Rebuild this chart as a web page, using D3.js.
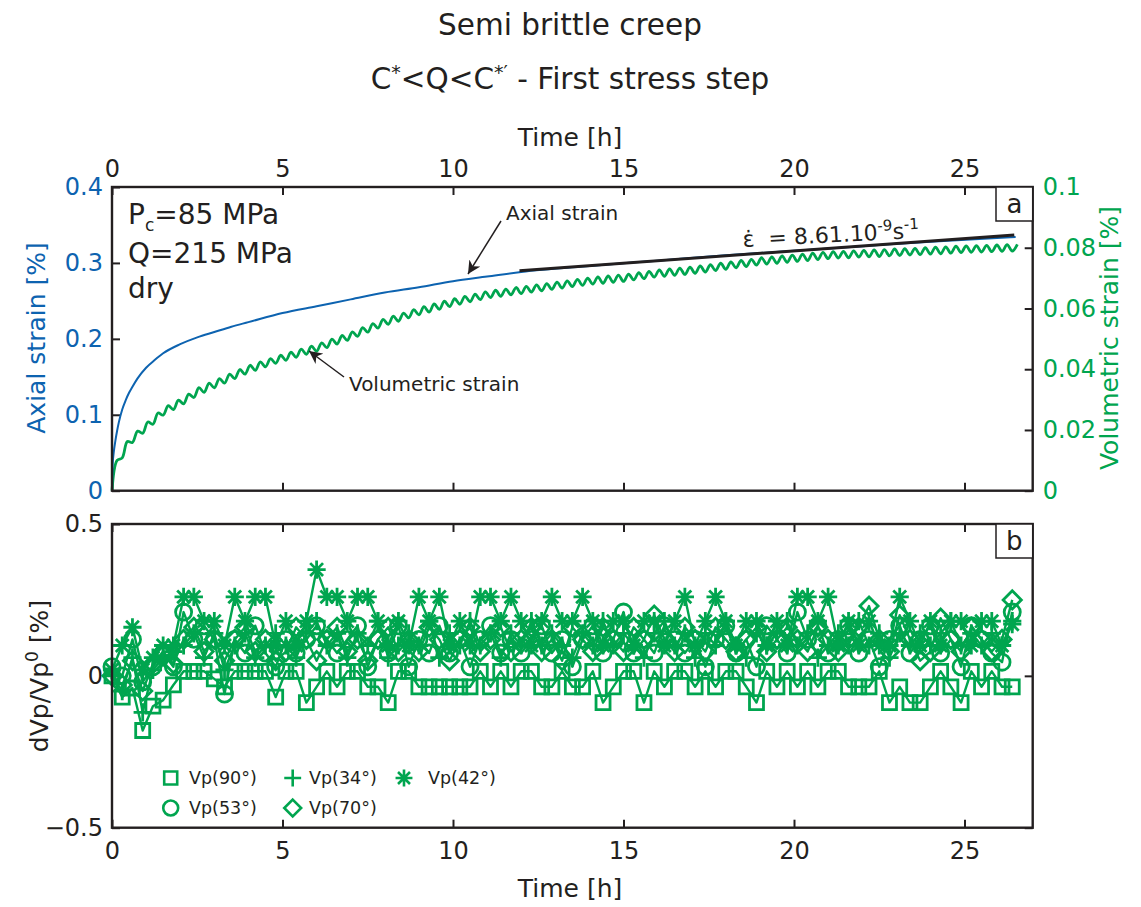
<!DOCTYPE html>
<html><head><meta charset="utf-8">
<script src="https://cdn.jsdelivr.net/npm/d3@7"></script>
<style>
body{margin:0;background:#fff}
svg text{font-family:"DejaVu Sans",sans-serif;fill:#231f20}
</style></head><body>
<svg id="c" width="1141" height="907"></svg>
<script>
// ---------------- data ----------------
const axialTime   = [0,0.02,0.05,0.1,0.15,0.2,0.3,0.4,0.5,0.6,0.75,1,1.25,1.5,2,2.5,3,3.5,4,5,6,7,8,9,10,11,12,14,16,18,20,22,24,26.5];
const axialStrain = [0,0.035,0.05,0.066,0.079,0.09,0.107,0.119,0.129,0.137,0.148,0.162,0.172,0.181,0.193,0.202,0.209,0.216,0.222,0.234,0.243,0.252,0.261,0.268,0.276,0.282,0.288,0.296,0.303,0.310,0.316,0.322,0.328,0.334];

// volumetric strain sampled every 0.15 h (peaks / troughs of the oscillation)
const volStep = 0.15;
const volStrain = [0,0.0100,0.0108,0.0162,0.0159,0.0196,0.0189,0.0226,0.0219,0.0256,
0.0249,0.0280,0.0267,0.0298,0.0286,0.0318,0.0307,0.0339,0.0324,0.0354,
0.0339,0.0369,0.0354,0.0384,0.0369,0.0399,0.0384,0.0413,0.0396,0.0424,
0.0408,0.0435,0.0419,0.0446,0.0429,0.0456,0.0439,0.0466,0.0449,0.0476,
0.0459,0.0487,0.0471,0.0499,0.0483,0.0511,0.0495,0.0523,0.0508,0.0537,
0.0522,0.0550,0.0535,0.0564,0.0548,0.0575,0.0558,0.0585,0.0569,0.0596,
0.0579,0.0606,0.0588,0.0615,0.0597,0.0624,0.0606,0.0632,0.0614,0.0640,
0.0622,0.0647,0.0629,0.0655,0.0636,0.0660,0.0640,0.0664,0.0645,0.0669,
0.0649,0.0673,0.0654,0.0678,0.0658,0.0682,0.0663,0.0687,0.0667,0.0691,
0.0672,0.0696,0.0676,0.0700,0.0680,0.0704,0.0683,0.0707,0.0686,0.0710,
0.0689,0.0713,0.0694,0.0718,0.0698,0.0722,0.0703,0.0727,0.0706,0.0730,
0.0709,0.0733,0.0712,0.0736,0.0716,0.0740,0.0720,0.0744,0.0725,0.0749,
0.0729,0.0753,0.0734,0.0758,0.0738,0.0762,0.0743,0.0767,0.0746,0.0770,
0.0749,0.0773,0.0752,0.0776,0.0755,0.0779,0.0758,0.0782,0.0761,0.0785,
0.0764,0.0787,0.0766,0.0788,0.0767,0.0790,0.0769,0.0791,0.0770,0.0793,
0.0771,0.0794,0.0773,0.0796,0.0774,0.0797,0.0776,0.0798,0.0777,0.0800,
0.0779,0.0802,0.0780,0.0803,0.0782,0.0805,0.0784,0.0806,0.0785,0.0807,
0.0786,0.0808,0.0787,0.0809,0.0788,0.0810,0.0789,0.0811];

// fitted strain-rate line
const fitTime  = [11.95, 26.46];
const fitValue = [0.2897, 0.3368];

// ultrasonic velocity changes, sampled every 0.3 h
const vpStep = 0.3;
const vp90 = [0,-0.07,-0.04,-0.18,-0.1,-0.08,-0.03,0.015,0.015,0.015,
-0.01,-0.036,0.015,0.015,0.015,0.015,-0.07,0.015,0.015,-0.088,
-0.036,0.015,-0.036,0.015,0.015,-0.036,-0.036,-0.088,0.015,0.015,
-0.036,-0.036,-0.036,-0.036,-0.036,-0.036,0.015,-0.036,0.015,-0.036,
0.015,0.015,-0.036,-0.036,0.015,-0.036,-0.036,0.015,-0.088,-0.036,
0.015,0.015,-0.088,0.015,-0.036,0.015,0.015,-0.036,0.015,-0.036,
0.015,0.015,-0.036,-0.088,0.015,-0.036,0.015,-0.036,0.015,-0.036,
0.015,0.015,-0.036,-0.036,-0.036,0.015,-0.088,-0.036,-0.088,-0.088,
-0.036,0.015,-0.036,-0.088,0.015,-0.036,0.015,-0.036,-0.036];
const vp53 = [0.03,0,0.12,-0.02,0.03,0.075,0.03,0.21,0.12,0.165,
0.12,-0.06,0.12,0.075,0.165,0.075,0.03,0.12,0.075,0.12,
0.165,0.12,0.075,0.12,0.165,0.03,0.12,0.075,0.165,0.03,
0.12,0.075,0.165,0.075,0.12,0.03,0.12,0.165,0.075,0.12,
0.075,0.12,0.165,0.075,0.12,0.03,0.12,0.165,0.075,0.12,
0.21,0.075,0.12,0.075,0.165,0.12,0.075,0.12,0.03,0.12,
0.165,0.075,0.12,0.03,0.165,0.12,0.075,0.21,0.12,0.165,
0.075,0.12,0.165,0.075,0.12,0.03,0.12,0.165,0.075,0.12,
0.165,0.075,0.12,0.03,0.165,0.12,0.075,0.045,0.21];
const vp34 = [0,-0.05,0.06,-0.12,0.02,0.06,0.08,0.10,0.14,0.06,
0.14,0.02,0.10,0.14,0.06,0.10,0.14,0.10,0.06,0.14,
0.18,0.10,0.14,0.06,0.14,0.10,0.18,0.06,0.10,0.14,
0.10,0.18,0.06,0.14,0.10,0.18,0.10,0.14,0.06,0.14,
0.10,0.18,0.10,0.14,0.10,0.06,0.14,0.10,0.18,0.10,
0.14,0.10,0.06,0.14,0.18,0.10,0.14,0.06,0.14,0.10,
0.18,0.10,0.06,0.14,0.10,0.14,0.18,0.10,0.14,0.06,
0.10,0.14,0.10,0.18,0.10,0.14,0.06,0.14,0.10,0.14,
0.10,0.14,0.18,0.10,0.14,0.10,0.14,0.10,0.18];
const vp70 = [0,-0.03,0.05,-0.05,0.04,0.08,0.04,0.12,0.16,0.08,
0.12,0.05,0.12,0.16,0.08,0.12,0.05,0.08,0.16,0.12,
0.05,0.12,0.16,0.08,0.12,0.05,0.12,0.16,0.08,0.12,
0.08,0.16,0.12,0.05,0.12,0.16,0.08,0.12,0.16,0.08,
0.12,0.16,0.08,0.12,0.05,0.16,0.12,0.08,0.16,0.12,
0.08,0.16,0.12,0.20,0.12,0.08,0.16,0.12,0.08,0.16,
0.12,0.08,0.12,0.16,0.08,0.12,0.16,0.12,0.08,0.16,
0.12,0.08,0.12,0.16,0.23,0.12,0.08,0.20,0.12,0.05,
0.08,0.19,0.12,0.08,0.16,0.12,0.08,0.12,0.25];
const vp42 = [0.02,0.10,0.16,0.02,0.06,0.10,0.10,0.26,0.26,0.18,
0.18,0.10,0.26,0.18,0.26,0.26,0.10,0.18,0.10,0.18,
0.35,0.26,0.26,0.18,0.26,0.26,0.18,0.10,0.18,0.10,
0.26,0.18,0.26,0.10,0.18,0.10,0.26,0.26,0.18,0.26,
0.18,0.10,0.18,0.26,0.18,0.18,0.26,0.18,0.10,0.18,
0.18,0.10,0.18,0.18,0.10,0.18,0.26,0.10,0.18,0.26,
0.18,0.10,0.18,0.18,0.10,0.18,0.10,0.26,0.26,0.18,
0.26,0.10,0.18,0.10,0.18,0.10,0.10,0.26,0.18,0.10,
0.18,0.10,0.18,0.18,0.10,0.18,0.18,0.10,0.17];

const legendLabels = ["Vp(90°)","Vp(53°)","Vp(34°)","Vp(70°)","Vp(42°)"];
const timeTicks = [0,5,10,15,20,25];
const axialTicks = [0,0.1,0.2,0.3,0.4];
const volTicks = [0,0.02,0.04,0.06,0.08,0.1];
const vpTicks = [-0.5,0,0.5];

// ---------------- drawing ----------------
const DARK="#231f20", GREEN="#00a54f", BLUE="#0d63b0";
const svg = d3.select("#c");
const FONT = 24;

const L=112, R=1032.7;
const aTop=187, aBot=490.7, bTop=524, bBot=827.7;

const x = d3.scaleLinear([0,27],[L,R]);
const yA = d3.scaleLinear([0,0.4],[aBot,aTop]);
const yV = d3.scaleLinear([0,0.1],[aBot,aTop]);
const yB = d3.scaleLinear([-0.5,0.5],[bBot,bTop]);

function styleAxis(g, color){
  g.select(".domain").remove();
  g.selectAll(".tick line").attr("stroke",DARK).attr("stroke-width",2);
  g.selectAll(".tick text").attr("font-size",FONT).attr("fill",color||DARK)
    .style("fill",color||DARK).attr("font-family","DejaVu Sans");
}
const fmt = d => d===0 ? "0" : String(+d.toFixed(2)).replace("-","\u2212");

// ---- panel a axes ----
svg.append("g").attr("transform",`translate(0,${aTop})`)
  .call(d3.axisTop(x).tickValues(timeTicks).tickSize(-8).tickPadding(10).tickFormat(fmt))
  .call(g=>styleAxis(g));
svg.append("g").attr("transform",`translate(0,${aBot})`)
  .call(d3.axisBottom(x).tickValues(timeTicks).tickSize(-8).tickFormat(""))
  .call(g=>styleAxis(g));
svg.append("g").attr("transform",`translate(${L},0)`)
  .call(d3.axisLeft(yA).tickValues(axialTicks).tickSize(-8).tickPadding(9).tickFormat(fmt))
  .call(g=>styleAxis(g,BLUE));
svg.append("g").attr("transform",`translate(${R},0)`)
  .call(d3.axisRight(yV).tickValues(volTicks).tickSize(-8).tickPadding(10).tickFormat(fmt))
  .call(g=>styleAxis(g,GREEN));

// ---- panel a data ----
const volData = volStrain.map((v,i)=>[i*volStep, v]);
svg.append("path").datum(volData)
  .attr("fill","none").attr("stroke",GREEN).attr("stroke-width",2.8)
  .attr("d", d3.line().x(d=>x(d[0])).y(d=>yV(d[1])).curve(d3.curveCatmullRom));
const axData = axialTime.map((t,i)=>[t, axialStrain[i]]);
svg.append("path").datum(axData)
  .attr("fill","none").attr("stroke",BLUE).attr("stroke-width",2)
  .attr("d", d3.line().x(d=>x(d[0])).y(d=>yA(d[1])).curve(d3.curveMonotoneX));
svg.append("path").datum(fitTime.map((t,i)=>[t,fitValue[i]]))
  .attr("fill","none").attr("stroke",DARK).attr("stroke-width",3)
  .attr("d", d3.line().x(d=>x(d[0])).y(d=>yA(d[1])));

svg.append("rect").attr("x",L).attr("y",aTop).attr("width",R-L).attr("height",aBot-aTop)
  .attr("fill","none").attr("stroke",DARK).attr("stroke-width",2.4);

// annotations panel a
const defs = svg.append("defs");
defs.append("marker").attr("id","ah").attr("viewBox","0 0 10 10").attr("refX",10).attr("refY",5)
  .attr("markerWidth",13).attr("markerHeight",13).attr("markerUnits","userSpaceOnUse").attr("orient","auto")
  .append("path").attr("d","M0,0L10,5L0,10L3,5Z").attr("fill",DARK);

const pc = svg.append("text").attr("x",128).attr("y",224).attr("font-size",28);
pc.append("tspan").text("P");
pc.append("tspan").attr("dy",7).attr("font-size",17).text("c");
pc.append("tspan").attr("dy",-7).text("=85 MPa");
svg.append("text").attr("x",128).attr("y",263).attr("font-size",28).text("Q=215 MPa");
svg.append("text").attr("x",128).attr("y",298).attr("font-size",28).text("dry");

svg.append("text").attr("x",506).attr("y",220).attr("font-size",20).text("Axial strain");
svg.append("line").attr("x1",501).attr("y1",221).attr("x2",468).attr("y2",274)
  .attr("stroke",DARK).attr("stroke-width",1.5).attr("marker-end","url(#ah)");
svg.append("text").attr("x",349).attr("y",391).attr("font-size",20).text("Volumetric strain");
svg.append("line").attr("x1",344).attr("y1",377).attr("x2",309).attr("y2",351)
  .attr("stroke",DARK).attr("stroke-width",1.5).attr("marker-end","url(#ah)");

const eps = svg.append("text").attr("x",743).attr("y",247).attr("font-size",22)
  .attr("transform","rotate(-3,743,247)").style("white-space","pre");
eps.append("tspan").text("\u03B5\u0307  = 8.61.10");
eps.append("tspan").attr("dy",-9).attr("font-size",15).text("-9");
eps.append("tspan").attr("dy",9).text("s");
eps.append("tspan").attr("dy",-9).attr("font-size",15).text("-1");

function boxLabel(y, t){
  svg.append("rect").attr("x",996).attr("y",y).attr("width",R-996).attr("height",34)
    .attr("fill","#fff").attr("stroke",DARK).attr("stroke-width",1.5);
  svg.append("text").attr("x",(996+R)/2).attr("y",y+26).attr("text-anchor","middle")
    .attr("font-size",26).text(t);
}
boxLabel(aTop,"a");

// titles
svg.append("text").attr("x",570).attr("y",35).attr("text-anchor","middle").attr("font-size",29.5).text("Semi brittle creep");
const t2 = svg.append("text").attr("x",570).attr("y",89).attr("text-anchor","middle").attr("font-size",29.5);
t2.append("tspan").text("C");
t2.append("tspan").attr("dy",-10).attr("font-size",19).text("*");
t2.append("tspan").attr("dy",10).text("<Q<C");
t2.append("tspan").attr("dy",-10).attr("font-size",19).text("*\u2032");
t2.append("tspan").attr("dy",10).text(" - First stress step");
svg.append("text").attr("x",570).attr("y",146).attr("text-anchor","middle").attr("font-size",25).text("Time [h]");
svg.append("text").attr("transform",`translate(45,338) rotate(-90)`).attr("text-anchor","middle")
  .attr("font-size",25).style("fill",BLUE).text("Axial strain [%]");
svg.append("text").attr("transform",`translate(1118,338) rotate(-90)`).attr("text-anchor","middle")
  .attr("font-size",25).style("fill",GREEN).text("Volumetric strain [%]");

// ---- panel b axes ----
svg.append("g").attr("transform",`translate(0,${bBot})`)
  .call(d3.axisBottom(x).tickValues(timeTicks).tickSize(-8).tickPadding(14).tickFormat(fmt))
  .call(g=>styleAxis(g));
svg.append("g").attr("transform",`translate(0,${bTop})`)
  .call(d3.axisTop(x).tickValues(timeTicks).tickSize(-8).tickFormat(""))
  .call(g=>styleAxis(g));
svg.append("g").attr("transform",`translate(${L},0)`)
  .call(d3.axisLeft(yB).tickValues(vpTicks).tickSize(-8).tickPadding(9).tickFormat(fmt))
  .call(g=>styleAxis(g));
svg.append("g").attr("transform",`translate(${R},0)`)
  .call(d3.axisRight(yB).tickValues(vpTicks).tickSize(-8).tickFormat(""))
  .call(g=>styleAxis(g));

// markers
function markerPath(k, s){
  const h=s/2;
  switch(k){
    case "sq": return `M${-h},${-h}H${h}V${h}H${-h}Z`;
    case "ci": return d3.symbol(d3.symbolCircle, Math.PI*(h*1.15)*(h*1.15))();
    case "di": { const d=h*1.3; return `M0,${-d}L${d},0L0,${d}L${-d},0Z`; }
    case "pl": return `M${-h*1.3},0H${h*1.3}M0,${-h*1.3}V${h*1.3}`;
    case "st": { const a=h*1.3, b=a*0.707; return `M${-a},0H${a}M0,${-a}V${a}M${-b},${-b}L${b},${b}M${-b},${b}L${b},${-b}`; }
  }
}
const series = [
  {k:"sq", v:vp90, lab:legendLabels[0]},
  {k:"ci", v:vp53, lab:legendLabels[1]},
  {k:"pl", v:vp34, lab:legendLabels[2]},
  {k:"di", v:vp70, lab:legendLabels[3]},
  {k:"st", v:vp42, lab:legendLabels[4]},
];
const lineB = d3.line().x(d=>x(d[0])).y(d=>yB(d[1]));
series.forEach(s=>{
  const data = s.v.map((v,i)=>[i*vpStep, v]);
  const g = svg.append("g");
  g.append("path").datum(data).attr("fill","none").attr("stroke",GREEN).attr("stroke-width",2.4)
    .attr("stroke-linejoin","round").attr("d",lineB);
  g.selectAll("path.m").data(data).join("path").attr("class","m")
    .attr("transform",d=>`translate(${x(d[0])},${yB(d[1])})`)
    .attr("d",markerPath(s.k,14)).attr("fill","none").attr("stroke",GREEN).attr("stroke-width",2.8);
});

svg.append("rect").attr("x",L).attr("y",bTop).attr("width",R-L).attr("height",bBot-bTop)
  .attr("fill","none").attr("stroke",DARK).attr("stroke-width",2.4);
boxLabel(bTop,"b");

// legend
const legPos = [[170.7,778,189],[170.7,808,189],[292.7,778,309],[292.7,808,309],[404,778,428]];
series.forEach((s,i)=>{
  const [mx,my,tx]=legPos[i];
  svg.append("path").attr("transform",`translate(${mx},${my})`).attr("d",markerPath(s.k,13))
    .attr("fill","none").attr("stroke",GREEN).attr("stroke-width",2.6);
  svg.append("text").attr("x",tx).attr("y",my).attr("dy","0.35em").attr("font-size",17.5).text(s.lab);
});

svg.append("text").attr("x",570).attr("y",897).attr("text-anchor","middle").attr("font-size",25).text("Time [h]");
const yl = svg.append("text").attr("transform",`translate(48,676) rotate(-90)`).attr("text-anchor","middle").attr("font-size",25);
yl.append("tspan").text("dVp/Vp");
yl.append("tspan").attr("dy",-10).attr("font-size",17).text("0");
yl.append("tspan").attr("dy",10).text(" [%]");
</script>
</body></html>
